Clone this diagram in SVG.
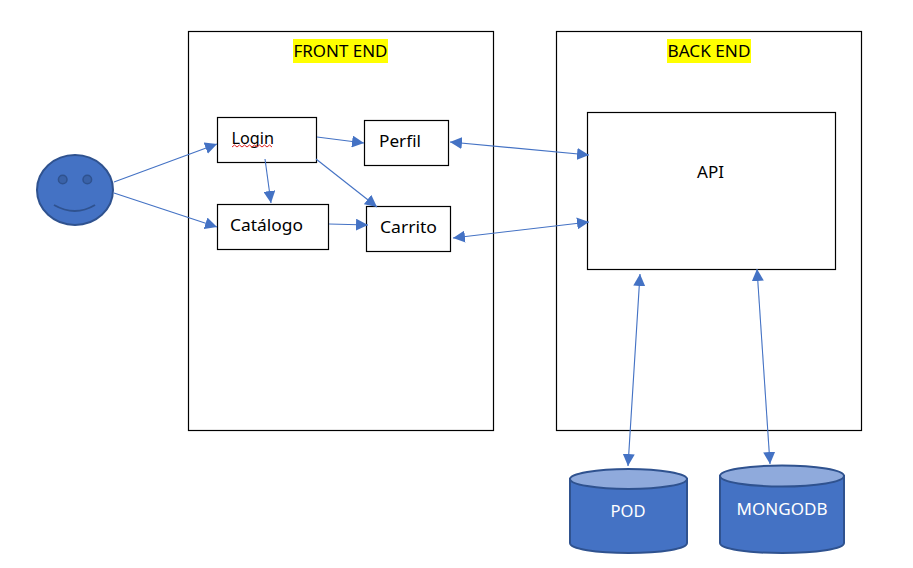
<svg xmlns="http://www.w3.org/2000/svg" width="913" height="568" viewBox="0 0 913 568">
<style>
.box{fill:#fff;stroke:#000;stroke-width:1.2}
.lbl{font-family:"Noto Sans","Liberation Sans",sans-serif;font-size:17px;fill:#000}
.wlbl{font-family:"Noto Sans","Liberation Sans",sans-serif;font-size:17px;fill:#fff;text-anchor:middle}
.hl{fill:#ffff00}
.shape{fill:#4472c4;stroke:#2f528f;stroke-width:2}
.top{fill:#8faadc;stroke:#2f528f;stroke-width:2}
.feat{fill:#3a62a8;stroke:#2f528f;stroke-width:1.5}
.smile{fill:none;stroke:#2f528f;stroke-width:2}
.c{fill:none;stroke:#4472c4;stroke-width:1.1;marker-end:url(#a)}
.d{fill:none;stroke:#4472c4;stroke-width:1.1;marker-start:url(#s);marker-end:url(#a)}
</style>
<defs>
<marker id="a" viewBox="0 0 10 10" refX="10" refY="5" markerUnits="userSpaceOnUse" markerWidth="12" markerHeight="12" orient="auto"><path d="M0 0L10 5L0 10Z" fill="#4472c4"/></marker>
<marker id="s" viewBox="0 0 10 10" refX="0" refY="5" markerUnits="userSpaceOnUse" markerWidth="12" markerHeight="12" orient="auto"><path d="M10 0L0 5L10 10Z" fill="#4472c4"/></marker>
</defs>
<rect width="913" height="568" fill="#fff"/>
<g id="frontend"><rect class="box" x="188.500" y="31.500" width="305" height="399"/><rect class="hl" x="293" y="39" width="95" height="24"/><text class="lbl" x="293.500" y="56.500" textLength="94" lengthAdjust="spacingAndGlyphs">FRONT END</text></g>
<g id="backend"><rect class="box" x="556.500" y="31.500" width="305" height="399"/><rect class="hl" x="667" y="39" width="84" height="24"/><text class="lbl" x="667.500" y="56.500" textLength="83" lengthAdjust="spacingAndGlyphs">BACK END</text></g>
<g id="user"><ellipse class="shape" cx="75" cy="190" rx="38" ry="35"/><circle class="feat" cx="62.700" cy="179.500" r="4.300"/><circle class="feat" cx="87.300" cy="179.500" r="4.300"/><path class="smile" d="M54 205Q75 217 95 205"/></g>
<g id="login"><rect class="box" x="217.500" y="117.500" width="99" height="45"/><text class="lbl" x="231.500" y="144" textLength="42.500" lengthAdjust="spacingAndGlyphs">Login</text><path d="M232 147l2.500-2 2.500 2 2.500-2 2.500 2 2.500-2 2.500 2 2.500-2 2.500 2 2.500-2 2.500 2 2.500-2 2.500 2 2.500-2 2.500 2 2.500-2 2.500 2" fill="none" stroke="#e02020" stroke-width="1"/></g>
<g id="perfil"><rect class="box" x="364.500" y="120.500" width="84" height="45"/><text class="lbl" x="379" y="147" textLength="42" lengthAdjust="spacingAndGlyphs">Perfil</text></g>
<g id="catalogo"><rect class="box" x="217.500" y="204.500" width="111" height="45"/><text class="lbl" x="230" y="231" textLength="73" lengthAdjust="spacingAndGlyphs">Catálogo</text></g>
<g id="carrito"><rect class="box" x="366.500" y="206.500" width="84" height="45"/><text class="lbl" x="380" y="233" textLength="57" lengthAdjust="spacingAndGlyphs">Carrito</text></g>
<g id="api"><rect class="box" x="587.500" y="112.500" width="248" height="157"/><text class="lbl" x="697" y="178" textLength="27" lengthAdjust="spacingAndGlyphs">API</text></g>
<g id="pod"><path class="shape" d="M570 479V543C570 549 596 553 628.500 553S687 549 687 543V479Z"/><ellipse class="top" cx="628.500" cy="479" rx="58.500" ry="10"/><text class="wlbl" x="628" y="516.500" textLength="35" lengthAdjust="spacingAndGlyphs">POD</text></g>
<g id="mongodb"><path class="shape" d="M720 476V543C720 549 748 553 782 553S844 549 844 543V476Z"/><ellipse class="top" cx="782" cy="476" rx="62" ry="10.500"/><text class="wlbl" x="782" y="514.500" textLength="91" lengthAdjust="spacingAndGlyphs">MONGODB</text></g>
<g id="connectors">
<path class="c" d="M114 182L217 144"/>
<path class="c" d="M114 193L217 227"/>
<path class="c" d="M265 159L271 203"/>
<path class="c" d="M317 137L364 143"/>
<path class="c" d="M316 159L377 207"/>
<path class="c" d="M329 224L368 225"/>
<path class="d" d="M450 142L589 155"/>
<path class="d" d="M453 238L589 222"/>
<path class="d" d="M628 466L640 274"/>
<path class="d" d="M770 464L757 269"/>
</g>
</svg>
